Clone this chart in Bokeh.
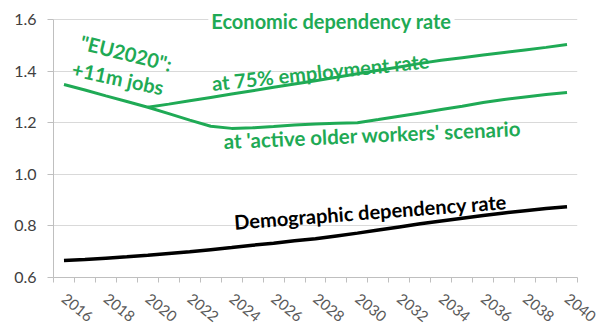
import math
from bokeh.plotting import figure
from bokeh.models import Label, FixedTicker
from bokeh.embed import file_html
from bokeh.resources import INLINE

# ---- data ----
years = list(range(2016, 2041))
active_older = [1.348, 1.327, 1.304, 1.282, 1.260, 1.235, 1.210, 1.186, 1.178, 1.180,
                1.185, 1.191, 1.195, 1.198, 1.200, 1.212, 1.225, 1.238, 1.251, 1.264,
                1.278, 1.290, 1.300, 1.309, 1.317]
years_75 = list(range(2020, 2041))
employment_75 = [1.260, 1.272, 1.285, 1.298, 1.311, 1.324, 1.337, 1.350, 1.363, 1.376,
                 1.390, 1.403, 1.416, 1.430, 1.442, 1.452, 1.462, 1.472, 1.482, 1.492, 1.503]
demographic = [0.666, 0.670, 0.675, 0.680, 0.686, 0.693, 0.700, 0.708, 0.716, 0.725,
               0.733, 0.742, 0.750, 0.761, 0.772, 0.784, 0.796, 0.808, 0.819, 0.830,
               0.840, 0.850, 0.859, 0.867, 0.874]
x_tick_years = list(range(2016, 2041, 2))
y_ticks = [0.6, 0.8, 1.0, 1.2, 1.4, 1.6]

GREEN = "#1FAA55"
FONT = "Lato"

# frame runs from 7px to 277px; the extra top room (above 1.6) lets the title label show
p = figure(width=601, height=329, output_backend="svg", toolbar_location=None,
           x_range=(2015.5, 2040.5), y_range=(0.6, 0.6 + 270 / 258),
           min_border_left=53, min_border_right=24, min_border_top=7, min_border_bottom=52)
p.outline_line_color = None
p.xgrid.grid_line_color = None
p.ygrid.grid_line_color = "#d9d9d9"
p.ygrid.grid_line_width = 1

# axes
p.xaxis.ticker = FixedTicker(ticks=x_tick_years, minor_ticks=[y - 0.5 for y in range(2016, 2042)])
p.xaxis.major_label_overrides = {y: str(y) for y in x_tick_years}
p.xaxis.major_tick_line_color = None
p.xaxis.major_tick_out = 0
p.xaxis.major_tick_in = 0
p.xaxis.minor_tick_line_color = "#bfbfbf"
p.xaxis.minor_tick_out = 5
p.xaxis.minor_tick_in = 0
p.xaxis.axis_line_color = "#bfbfbf"
p.xaxis.major_label_orientation = -0.68
p.xaxis.major_label_standoff = 14
p.xaxis.major_label_text_font = FONT
p.xaxis.major_label_text_font_size = "15px"
p.xaxis.major_label_text_color = "#595959"

p.yaxis.ticker = FixedTicker(ticks=y_ticks, minor_ticks=[])
p.yaxis.bounds = (0.6, 1.6)
p.yaxis.major_label_overrides = {v: f"{v:.1f}" for v in y_ticks}
p.yaxis.axis_line_color = "#bfbfbf"
p.yaxis.major_tick_line_color = "#bfbfbf"
p.yaxis.major_tick_out = 6
p.yaxis.major_tick_in = 0
p.yaxis.minor_tick_line_color = None
p.yaxis.major_label_standoff = 11
p.yaxis.major_label_text_font = FONT
p.yaxis.major_label_text_font_size = "16px"
p.yaxis.major_label_text_color = "#404040"

# lines
p.line(years, active_older, line_color=GREEN, line_width=3)
p.line(years_75, employment_75, line_color=GREEN, line_width=3)
p.line(years, demographic, line_color="black", line_width=3.5)

def lab(x, y, text, angle_deg, color=GREEN, size="20px", **kw):
    p.add_layout(Label(x=x, y=y, text=text, angle=math.radians(angle_deg),
                       text_align="center", text_baseline="middle",
                       text_font=FONT, text_font_style="bold", text_font_size=size,
                       text_color=color, **kw))

lab(2028.76, 1.594, "Economic dependency rate", 0,
    background_fill_color="white", padding=3)
lab(2018.97, 1.471, "\"EU2020\":", -14)
lab(2018.58, 1.374, "+11m jobs", -12)
lab(2028.24, 1.398, "at 75% employment rate", 6)
lab(2030.72, 1.154, "at 'active older workers' scenario", 2.5, size="20.5px")
lab(2030.62, 0.856, "Demographic dependency rate", 4.3, color="black")

open("out.html", "w").write(file_html(p, INLINE))
